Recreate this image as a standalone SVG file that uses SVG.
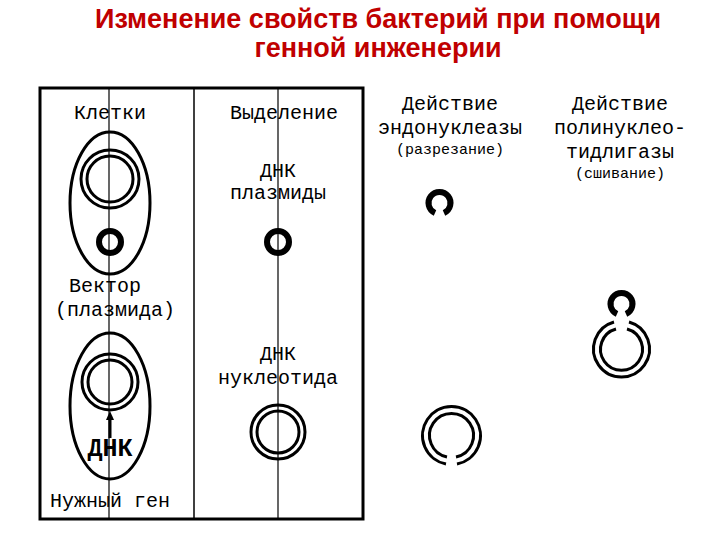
<svg xmlns="http://www.w3.org/2000/svg" width="720" height="540" viewBox="0 0 720 540">
<style>
.t{font-family:"Liberation Mono",monospace;font-size:20px;fill:#000;text-anchor:middle}
.s{font-family:"Liberation Mono",monospace;font-size:15px;fill:#000;text-anchor:middle}
.b{font-family:"Liberation Mono",monospace;font-size:25px;font-weight:bold;fill:#000;text-anchor:middle}
.ti{font-family:"Liberation Sans",Arial,sans-serif;font-size:27px;font-weight:bold;fill:#c00000;text-anchor:middle}
.ln{stroke:#000;fill:none}
.rg{stroke:#000;fill:none;stroke-width:3}
.th{stroke:#000;fill:none;stroke-width:6}
</style>
<rect width="720" height="540" fill="#fff"/>
<text class="ti" x="378" y="28">Изменение свойств бактерий при помощи</text>
<text class="ti" x="378" y="57">генной  инженерии</text>
<g id="frame">
<rect x="40" y="88" width="323" height="431" class="ln" stroke-width="3"/>
<line x1="194" y1="88" x2="194" y2="519" class="ln" stroke-width="1.5"/>
</g>
<g id="axes">
<line x1="109" y1="88" x2="109" y2="519" class="ln" stroke-width="1.2"/>
<line x1="278" y1="88" x2="278" y2="519" class="ln" stroke-width="1.2"/>
</g>
<g id="headers">
<text class="t" x="110" y="119">Клетки</text>
<text class="t" x="284" y="119">Выделение</text>
<text class="t" x="450" y="110">Действие</text>
<text class="t" x="450" y="134">эндонуклеазы</text>
<text class="s" x="450" y="154">(разрезание)</text>
<text class="t" x="620" y="110">Действие</text>
<text class="t" x="620" y="134">полинуклео-</text>
<text class="t" x="620" y="158">тидлигазы</text>
<text class="s" x="620" y="178">(сшивание)</text>
</g>
<g id="cell1">
<ellipse cx="110" cy="203" rx="40" ry="71" class="rg"/>
<circle cx="110" cy="179" r="29" class="rg"/>
<circle cx="110" cy="179" r="23" class="rg"/>
<circle cx="110" cy="242" r="11" class="th"/>
<text class="t" x="105" y="292">Вектор</text>
<text class="t" x="115" y="316">(плазмида)</text>
</g>
<g id="cell2">
<ellipse cx="110" cy="406" rx="40" ry="73" class="rg"/>
<circle cx="110" cy="382" r="28" class="rg"/>
<circle cx="110" cy="382" r="22" class="rg"/>
<line x1="110" y1="438" x2="110" y2="418" stroke="#000" stroke-width="3"/>
<polygon points="110,411 106,420 114,420" fill="#000"/>
<text class="b" x="110" y="456">ДНК</text>
<text class="t" x="110" y="507">Нужный ген</text>
</g>
<g id="plasmid">
<text class="t" x="278" y="177">ДНК</text>
<text class="t" x="278" y="199">плазмиды</text>
<circle cx="278" cy="242" r="11" class="th"/>
</g>
<g id="nucleotide">
<text class="t" x="278" y="360">ДНК</text>
<text class="t" x="278" y="384">нуклеотида</text>
<circle cx="278" cy="432" r="27" class="rg"/>
<circle cx="278" cy="432" r="21" class="rg"/>
</g>
<g id="cut">
<path d="M435,213 A11,11 0 1 1 444,213" class="th"/>
<path d="M446,464 A29,29 0 1 1 457,464" class="rg"/>
<path d="M447,457 A22,22 0 1 1 456,457" class="rg"/>
</g>
<g id="ligate">
<path d="M617,314 A11,11 0 1 1 626,314" class="th"/>
<path d="M614,322 A28,28 0 1 0 629,322" class="rg"/>
<path d="M616,329 A21,21 0 1 0 627,329" class="rg"/>
</g>
</svg>
